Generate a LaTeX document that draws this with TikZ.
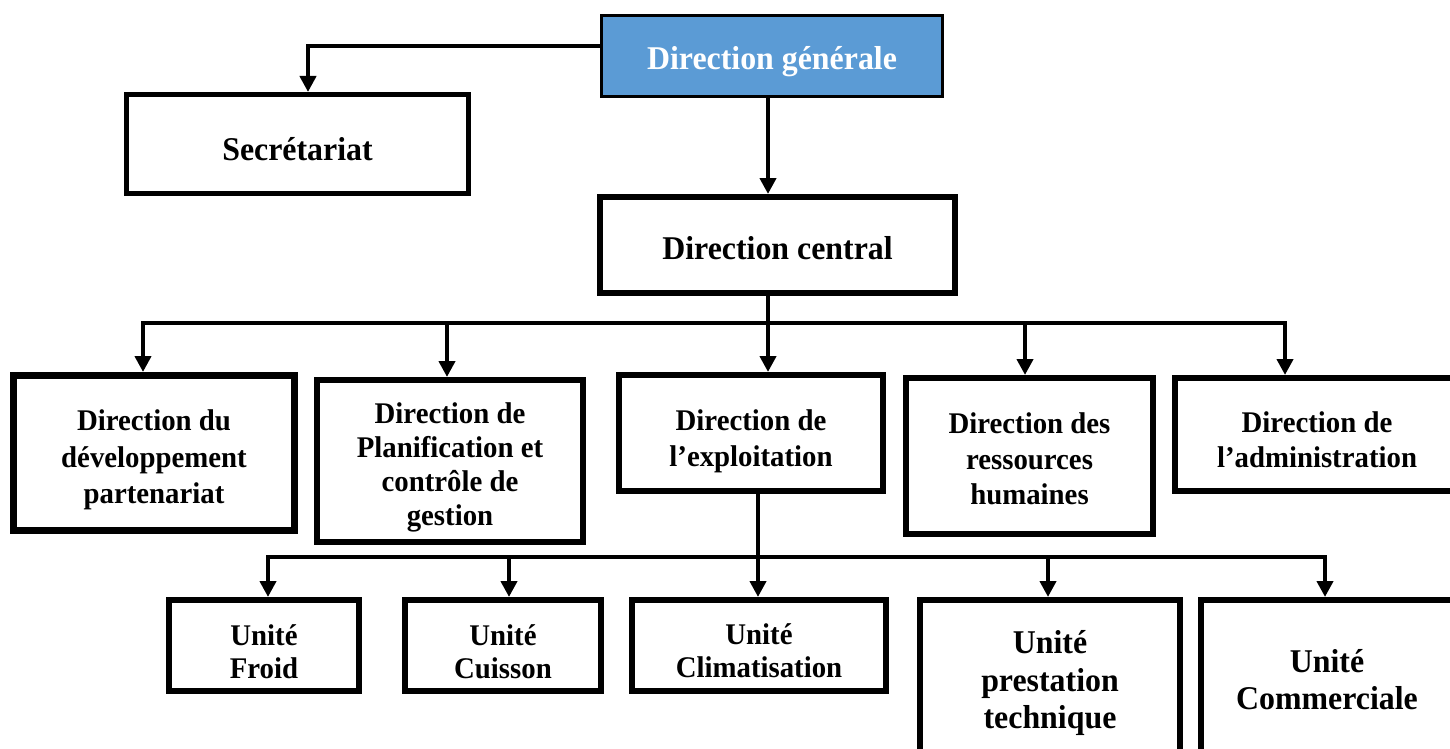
\documentclass[tikz,border=0pt]{standalone}
\usepackage{fontspec}
\setmainfont{Liberation Serif}[FakeStretch=0.96]
\usetikzlibrary{arrows.meta}
\definecolor{dgblue}{HTML}{5B9BD5}
\begin{document}
\begin{tikzpicture}[x=0.5pt,y=-0.5pt,
  box/.style={draw=black, fill=white, inner sep=0pt, line width=3pt},
  lbl/.style={align=center, inner sep=0pt, font=\fontsize{15}{17.5}\selectfont\bfseries},
  conn/.style={line width=2.4pt, line join=miter},
  arr/.style={conn, -{Triangle[width=8pt,length=8pt]}}]
\useasboundingbox[fill=white] (0,0) rectangle (1450,749);
\begin{scope}
\clip (0,0) rectangle (1450,749);
% top
\node[box, fill=dgblue, line width=1.5pt, minimum width=170.5pt, minimum height=40.5pt,
  label={[lbl, text=white, font=\fontsize{16.6}{18.5}\selectfont\bfseries, yshift=-3pt]center:Direction générale}] (dg) at (772,56) {};
\node[box, line width=2.5pt, minimum width=171pt, minimum height=49.5pt,
  label={[lbl, font=\fontsize{16.6}{18.5}\selectfont\bfseries, yshift=-2.5pt]center:Secrétariat}] (sec) at (297.5,144) {};
\node[box, minimum width=177.5pt, minimum height=48pt,
  label={[lbl, font=\fontsize{16.6}{18.5}\selectfont\bfseries, yshift=-1.5pt]center:Direction central}] (dc) at (777.5,245) {};
% level 2
\node[box, line width=3.5pt, minimum width=140.5pt, minimum height=77.5pt,
  label={[lbl, font=\fontsize{15}{18.25}\selectfont\bfseries, yshift=-3.5pt]center:{Direction du\\développement\\partenariat}}] (dd) at (154,453) {};
\node[box, minimum width=133pt, minimum height=81pt,
  label={[lbl, font=\fontsize{15}{17}\selectfont\bfseries, yshift=-3pt]center:{Direction de\\Planification et\\contrôle de\\gestion}}] (pl) at (450,461) {};
\node[box, minimum width=132pt, minimum height=58pt,
  label={[lbl, font=\fontsize{15}{18}\selectfont\bfseries, yshift=-4pt]center:{Direction de\\l’exploitation}}] (ex) at (751,433) {};
\node[box, minimum width=123.5pt, minimum height=78pt,
  label={[lbl, font=\fontsize{15}{17.75}\selectfont\bfseries, yshift=-1.5pt]center:{Direction des\\ressources\\humaines}}] (rh) at (1029.5,456) {};
\node[box, minimum width=142pt, minimum height=56.5pt,
  label={[lbl, font=\fontsize{15}{17.5}\selectfont\bfseries, yshift=-2.5pt]center:{Direction de\\l’administration}}] (ad) at (1317,434.5) {};
% level 3
\node[box, minimum width=95pt, minimum height=45.5pt,
  label={[lbl, font=\fontsize{15}{16.5}\selectfont\bfseries, yshift=-3pt]center:{Unité\\Froid}}] (fr) at (264,645.5) {};
\node[box, minimum width=98pt, minimum height=45.5pt,
  label={[lbl, font=\fontsize{15}{16.5}\selectfont\bfseries, yshift=-3pt]center:{Unité\\Cuisson}}] (cu) at (503,645.5) {};
\node[box, minimum width=127pt, minimum height=45.5pt,
  label={[lbl, font=\fontsize{15}{16.5}\selectfont\bfseries, yshift=-2.5pt]center:{Unité\\Climatisation}}] (cl) at (759,645.5) {};
\node[box, minimum width=130pt, minimum height=81pt,
  label={[lbl, font=\fontsize{16.6}{18.75}\selectfont\bfseries, yshift=-1pt]center:{Unité\\prestation\\technique}}] (pt) at (1050,681) {};
\node[box, minimum width=126pt, minimum height=81pt,
  label={[lbl, font=\fontsize{16.6}{18.5}\selectfont\bfseries, yshift=0.5pt]center:{Unité\\Commerciale}}] (co) at (1327,681) {};
% connectors top
\draw[arr] ([yshift=5pt]dg.west) -| ([xshift=5.25pt]sec.north);
\coordinate (dgx) at (768,0);
\draw[arr] (dg.south -| dgx) -- (dc.north -| dgx);
% bus 1
\coordinate (b1) at (768,323);
\coordinate (j11) at (143,323);
\coordinate (j12) at (447,323);
\coordinate (j14) at (1025,323);
\coordinate (j15) at (1285,323);
\draw[conn] (dc.south -| b1) -- (b1);
\draw[arr] (b1) -| (dd.north -| j11);
\draw[arr] (b1) -| (pl.north -| j12);
\draw[arr] (b1) -- (ex.north -| b1);
\draw[arr] (b1) -| (rh.north -| j14);
\draw[arr] (b1) -| (ad.north -| j15);
% bus 2
\coordinate (b2) at (758,557);
\coordinate (j21) at (268,557);
\coordinate (j22) at (509,557);
\coordinate (j24) at (1048,557);
\coordinate (j25) at (1325,557);
\draw[conn] (ex.south -| b2) -- (b2);
\draw[arr] (b2) -| (fr.north -| j21);
\draw[arr] (b2) -| (cu.north -| j22);
\draw[arr] (b2) -- (cl.north -| b2);
\draw[arr] (b2) -| (pt.north -| j24);
\draw[arr] (b2) -| (co.north -| j25);
\end{scope}
\end{tikzpicture}
\end{document}
